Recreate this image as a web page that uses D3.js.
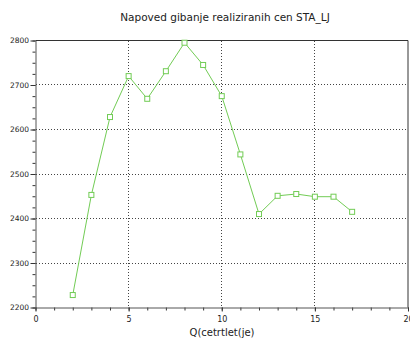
<!DOCTYPE html>
<html>
<head>
<meta charset="utf-8">
<script src="https://cdn.jsdelivr.net/npm/d3@7"></script>
<style>
  body { margin: 0; background: #fff; }
  text { font-family: "DejaVu Sans", sans-serif; }
</style>
</head>
<body>
<div id="chart"></div>
<script>
var quarters = [2, 3, 4, 5, 6, 7, 8, 9, 10, 11, 12, 13, 14, 15, 16, 17];
var prices = [2228, 2453, 2628, 2720, 2669, 2731, 2795, 2745, 2675, 2544, 2410, 2451, 2455, 2449, 2449, 2415];
var xTicks = [0, 5, 10, 15, 20];
var yTicks = [2200, 2300, 2400, 2500, 2600, 2700, 2800];

var margin = { top: 40.5, bottom: 34.5, left: 35.5, right: 2 },
  width = 410 - margin.left - margin.right,
  height = 342 - margin.top - margin.bottom;

var svg = d3.select("#chart")
  .append("svg")
  .attr("width", 410)
  .attr("height", 342);

var g = svg.append("g")
  .attr("transform", "translate(" + margin.left + "," + margin.top + ")");

var x = d3.scaleLinear().domain([0, 20]).range([0, width]);
var y = d3.scaleLinear().domain([2200, 2800]).range([height, 0]);
function px(v) { return Math.round(v) }

// grid
g.selectAll(".gx")
  .data(xTicks.slice(1, -1))
  .enter().append("line")
  .attr("x1", function(d) { return px(x(d)) }).attr("x2", function(d) { return px(x(d)) })
  .attr("y1", 0).attr("y2", height)
  .attr("stroke", "#444").attr("stroke-width", 1).attr("stroke-dasharray", "1,2")
  .attr("shape-rendering", "crispEdges");
g.selectAll(".gy")
  .data(yTicks.slice(1, -1))
  .enter().append("line")
  .attr("y1", function(d) { return px(y(d)) }).attr("y2", function(d) { return px(y(d)) })
  .attr("x1", 0).attr("x2", width)
  .attr("stroke", "#444").attr("stroke-width", 1).attr("stroke-dasharray", "1,2")
  .attr("shape-rendering", "crispEdges");

// minor ticks
g.append("g")
  .attr("transform", "translate(0," + height + ")")
  .call(d3.axisBottom(x).ticks(20).tickSize(3).tickFormat(""))
  .call(function(a) { a.select(".domain").remove() })
  .selectAll("line").attr("stroke", "#333");
g.append("g")
  .call(d3.axisLeft(y).tickValues(d3.range(2200, 2801, 25)).tickSize(3).tickFormat(""))
  .call(function(a) { a.select(".domain").remove() })
  .selectAll("line").attr("stroke", "#333");

// major axes
var xa = g.append("g")
  .attr("transform", "translate(0," + height + ")")
  .call(d3.axisBottom(x).tickValues(xTicks).tickSize(4).tickSizeOuter(0).tickFormat(d3.format("d")));
xa.selectAll("text").attr("font-size", 8).attr("fill", "#222").attr("dy", "0.9em");
var ya = g.append("g")
  .call(d3.axisLeft(y).tickValues(yTicks).tickSize(5).tickSizeOuter(0).tickFormat(d3.format("d")));
ya.selectAll("text").attr("font-size", 7.5).attr("fill", "#222").attr("dx", "0.2em");
g.selectAll(".domain").attr("stroke", "#555");
g.selectAll(".tick line").attr("stroke", "#333");

// box
g.append("line").attr("x1", 0).attr("x2", width).attr("y1", 0).attr("y2", 0).attr("stroke", "#333");
g.append("line").attr("x1", width).attr("x2", width).attr("y1", 0).attr("y2", height).attr("stroke", "#333");

// series
var pts = quarters.map(function(q, i) { return [q, prices[i]] });
g.append("path")
  .datum(pts)
  .attr("fill", "none")
  .attr("stroke", "#72cc55")
  .attr("stroke-width", 1)
  .attr("d", d3.line().x(function(d) { return x(d[0]) }).y(function(d) { return y(d[1]) }));
g.selectAll(".pt")
  .data(pts)
  .enter().append("rect")
  .attr("x", function(d) { return x(d[0]) - 2.5 })
  .attr("y", function(d) { return y(d[1]) - 2.5 })
  .attr("width", 5).attr("height", 5)
  .attr("fill", "#fff")
  .attr("stroke", "#72cc55")
  .attr("stroke-width", 1);

svg.append("text")
  .attr("x", 225).attr("y", 21)
  .attr("text-anchor", "middle")
  .attr("font-size", 10.5)
  .attr("fill", "#222")
  .text("Napoved gibanje realiziranih cen STA_LJ");

svg.append("text")
  .attr("x", 222).attr("y", 336)
  .attr("text-anchor", "middle")
  .attr("font-size", 10)
  .attr("fill", "#222")
  .text("Q(cetrtlet(je)");
</script>
</body>
</html>
